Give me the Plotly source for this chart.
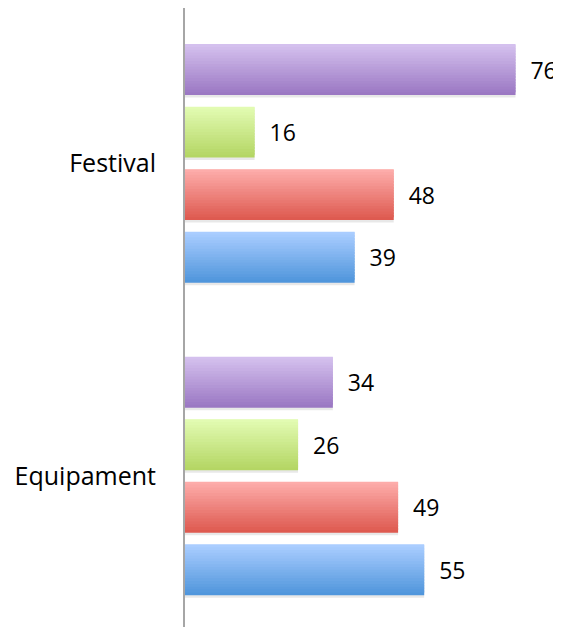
import plotly.graph_objects as go

# ---- data ----
categories = ["Equipament", "Festival"]
# series listed bottom-to-top within each group
series_names = ["Blue", "Red", "Green", "Purple"]
blue_values = [55, 39]
red_values = [49, 48]
green_values = [26, 16]
purple_values = [34, 76]

series_values = [blue_values, red_values, green_values, purple_values]

# gradient colours (bottom, top) per series
series_colors = [
    ((80, 150, 220), (170, 205, 255)),   # blue
    ((222, 90, 80), (253, 172, 170)),    # red
    ((180, 214, 100), (226, 251, 178)),  # green
    ((155, 120, 195), (212, 192, 238)),  # purple
]

FONT = "Open Sans"
VAL_SIZE = 23
CAT_SIZE = 25
N_BANDS = 18
SLOT = 0.2
BAR_H = 0.163

fig = go.Figure()

for i, (vals, (c0, c1)) in enumerate(zip(series_values, series_colors)):
    center = -0.3 + SLOT * i
    base = center - BAR_H / 2
    bw = BAR_H / N_BANDS
    # soft shadow
    fig.add_trace(go.Bar(
        y=categories, x=vals, orientation="h",
        offset=base - 0.008, width=BAR_H,
        marker=dict(color="rgba(0,0,0,0.09)", line=dict(width=0)),
        hoverinfo="skip", showlegend=False,
    ))
    for k in range(N_BANDS):
        t = k / (N_BANDS - 1)
        col = tuple(round(a + (b - a) * t) for a, b in zip(c0, c1))
        fig.add_trace(go.Bar(
            y=categories, x=vals, orientation="h",
            offset=base + k * bw, width=bw * 1.8 if k < N_BANDS - 1 else bw,
            marker=dict(color="rgb(%d,%d,%d)" % col, line=dict(width=0)),
            hoverinfo="skip", showlegend=False,
        ))
    # value labels
    fig.add_trace(go.Bar(
        y=categories, x=vals, orientation="h",
        offset=base, width=BAR_H,
        marker=dict(color="rgba(0,0,0,0)", line=dict(width=0)),
        text=["\u00a0\u00a0" + str(v) for v in vals],
        textposition="outside", cliponaxis=False,
        textfont=dict(family=FONT, size=VAL_SIZE, color="#000000"),
        name=series_names[i], showlegend=False, hoverinfo="skip",
    ))

fig.update_layout(
    width=561, height=627,
    margin=dict(l=177, r=8, t=0, b=8, autoexpand=False),
    barmode="overlay",
    plot_bgcolor="white", paper_bgcolor="white",
    font=dict(family=FONT, size=VAL_SIZE, color="#000000"),
)
fig.update_xaxes(visible=False, range=[0, 86.46], fixedrange=True, automargin=False)
fig.update_yaxes(
    type="category", categoryorder="array", categoryarray=categories,
    range=[-0.483, 1.497], showgrid=False, zeroline=False,
    showline=True, linecolor="#a6a6a6", linewidth=2,
    ticks="", ticklabelstandoff=22, automargin=False,
    tickfont=dict(family=FONT, size=CAT_SIZE, color="#000000"),
)

fig.write_html("out.html")
